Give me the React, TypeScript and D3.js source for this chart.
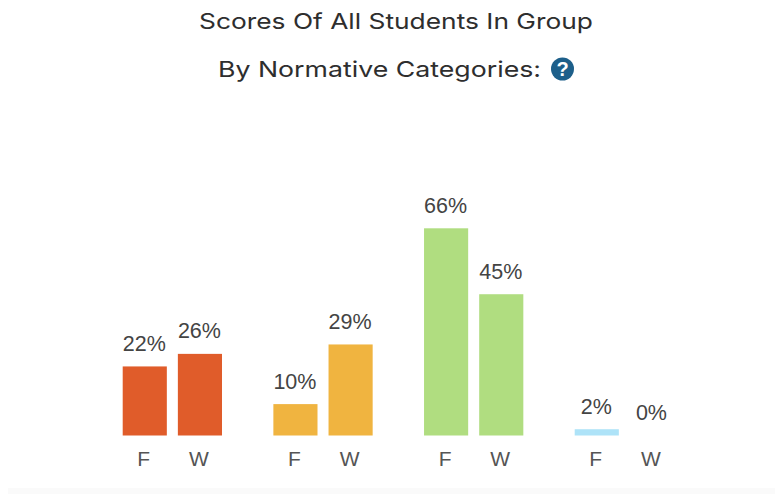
import React from "react";
import * as d3 from "d3";

const groups = ["A", "B", "C", "D"];
const terms = ["F", "W"];
const fallValues = [22, 10, 66, 2];
const winterValues = [26, 29, 45, 0];
const groupColors = ["#e05c2a", "#f0b440", "#b0dd80", "#aee3f8"];
const titleLines = ["Scores Of All Students In Group", "By Normative Categories:"];

const W = 775, H = 494;
const x0 = d3.scaleBand().domain(groups).range([122.7, 674]).paddingInner(0.341);
const x1 = d3.scaleBand().domain(terms).range([0, x0.bandwidth()]).paddingInner(0.2);
const y = d3.scaleLinear().domain([0, 66]).range([435.5, 228.3]);

const sans = "'Liberation Sans', Arial, sans-serif";
const titleFont = "Inter, 'Noto Sans', sans-serif";

export default function App() {
  const bars = groups.flatMap((g, i) => [
    { g, t: "F", v: fallValues[i], c: groupColors[i] },
    { g, t: "W", v: winterValues[i], c: groupColors[i] },
  ]);
  return (
    <svg width={W} height={H} style={{ position: "fixed", left: 0, top: 0, background: "#fff" }}>
      <rect x={8} y={488} width={W - 8} height={6} fill="#fafafa" />
      <text x={396} y={29} textAnchor="middle" fontFamily={titleFont} fontSize={22} fill="#2e2e2e" textLength={394} lengthAdjust="spacingAndGlyphs">{titleLines[0]}</text>
      <text x={379.5} y={77} textAnchor="middle" fontFamily={titleFont} fontSize={22} fill="#2e2e2e" textLength={323} lengthAdjust="spacingAndGlyphs">{titleLines[1]}</text>
      <circle cx={562.5} cy={69} r={11.5} fill="#1d5f8a" />
      <text x={562.5} y={76} textAnchor="middle" fontFamily={sans} fontWeight="bold" fontSize={20} fill="#fff">?</text>
      {bars.map((b) => {
        const bx = x0(b.g)! + x1(b.t)!;
        const cx = bx + x1.bandwidth() / 2;
        return (
          <g key={b.g + b.t}>
            {b.v > 0 && <rect x={bx} y={y(b.v)} width={x1.bandwidth()} height={y(0) - y(b.v)} fill={b.c} />}
            <text x={cx - 0.5} y={y(b.v) - 15.5} textAnchor="middle" fontFamily={sans} fontSize={21.5} fill="#444">{b.v}%</text>
            <text x={cx - 1} y={466} textAnchor="middle" fontFamily={sans} fontSize={21} fill="#555">{b.t}</text>
          </g>
        );
      })}
    </svg>
  );
}
